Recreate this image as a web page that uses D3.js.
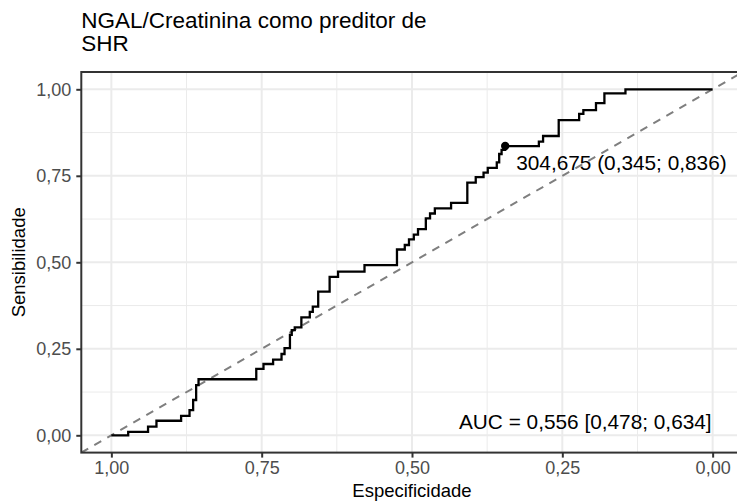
<!DOCTYPE html>
<html>
<head>
<meta charset="utf-8">
<script src="https://cdn.jsdelivr.net/npm/d3@7"></script>
<style>
  body { margin: 0; background: #fff; }
  svg { display: block; font-family: "Liberation Sans", Arial, sans-serif; }
</style>
</head>
<body>
<svg width="737" height="503"></svg>
<script>
// ROC vertices (specificity, sensitivity)
var spec = [1, 0.972, 0.939, 0.925, 0.884, 0.870, 0.864, 0.859, 0.855, 0.759,
  0.747, 0.731, 0.717, 0.712, 0.703, 0.700, 0.695, 0.684, 0.670, 0.665,
  0.656, 0.637, 0.623, 0.579, 0.525, 0.512, 0.505, 0.497, 0.490, 0.477,
  0.470, 0.462, 0.435, 0.408, 0.394, 0.381, 0.374, 0.359, 0.355, 0.351,
  0.345, 0.289, 0.282, 0.256, 0.222, 0.215, 0.194, 0.180, 0.145, 0];
var sens = [0, 0.010, 0.025, 0.042, 0.056, 0.073, 0.102, 0.145, 0.162, 0.192,
  0.206, 0.219, 0.235, 0.252, 0.290, 0.304, 0.312, 0.341, 0.357, 0.372,
  0.415, 0.458, 0.473, 0.492, 0.537, 0.550, 0.566, 0.580, 0.596, 0.627,
  0.641, 0.656, 0.672, 0.730, 0.746, 0.759, 0.773, 0.789, 0.813, 0.825,
  0.836, 0.849, 0.865, 0.911, 0.929, 0.940, 0.960, 0.988, 1, 1];

var bestPoint = {spec: 0.345, sens: 0.836, label: "304,675 (0,345; 0,836)"};
var aucLabel = "AUC = 0,556 [0,478; 0,634]";
var majorTicks = [0, 0.25, 0.5, 0.75, 1];
var minorTicks = [0.125, 0.375, 0.625, 0.875];
var tickLabels = ["0,00", "0,25", "0,50", "0,75", "1,00"];
var titleLines = ["NGAL/Creatinina como preditor de", "SHR"];

var svg = d3.select("svg");

// panel box (right edge runs past the picture, as in the original)
var pL = 81.3, pR = 742.7, pT = 72, pB = 452.6;

var x = d3.scaleLinear().domain([1.05, -0.05]).range([pL, pR]);
var y = d3.scaleLinear().domain([-0.05, 1.05]).range([pB, pT]);

var clip = svg.append("defs").append("clipPath").attr("id", "panel");
clip.append("rect").attr("x", pL).attr("y", pT)
  .attr("width", pR - pL).attr("height", pB - pT);

var panel = svg.append("g").attr("clip-path", "url(#panel)");

// grid
panel.selectAll(".vminor").data(minorTicks).enter().append("line")
  .attr("x1", x).attr("x2", x).attr("y1", pT).attr("y2", pB)
  .style("stroke", "#ebebeb").style("stroke-width", 1);
panel.selectAll(".hminor").data(minorTicks).enter().append("line")
  .attr("y1", y).attr("y2", y).attr("x1", pL).attr("x2", pR)
  .style("stroke", "#ebebeb").style("stroke-width", 1);
panel.selectAll(".vmajor").data(majorTicks).enter().append("line")
  .attr("x1", x).attr("x2", x).attr("y1", pT).attr("y2", pB)
  .style("stroke", "#ebebeb").style("stroke-width", 2);
panel.selectAll(".hmajor").data(majorTicks).enter().append("line")
  .attr("y1", y).attr("y2", y).attr("x1", pL).attr("x2", pR)
  .style("stroke", "#ebebeb").style("stroke-width", 2);

// chance line
panel.append("line")
  .attr("x1", x(1.05)).attr("y1", y(-0.05))
  .attr("x2", x(-0.05)).attr("y2", y(1.05))
  .style("stroke", "#7f7f7f").style("stroke-width", 2)
  .style("stroke-dasharray", "8,7");

// ROC staircase
var pts = spec.map(function(s, i) { return [s, sens[i]]; });
var line = d3.line()
  .x(function(d) { return x(d[0]); })
  .y(function(d) { return y(d[1]); })
  .curve(d3.curveStepAfter);
panel.append("path").datum(pts).attr("d", line)
  .style("fill", "none").style("stroke", "#000").style("stroke-width", 2.3);

panel.append("circle")
  .attr("cx", x(bestPoint.spec)).attr("cy", y(bestPoint.sens)).attr("r", 4.2)
  .style("fill", "#000");

svg.append("text")
  .attr("x", x(bestPoint.spec) + 11).attr("y", y(bestPoint.sens) + 24)
  .style("font-size", "20.8px").style("fill", "#000")
  .text(bestPoint.label);

svg.append("text")
  .attr("x", x(0) - 1).attr("y", y(0) - 6)
  .attr("text-anchor", "end")
  .style("font-size", "20.8px").style("fill", "#000")
  .text(aucLabel);

// border
svg.append("rect").attr("x", pL).attr("y", pT)
  .attr("width", pR - pL).attr("height", pB - pT)
  .style("fill", "none").style("stroke", "#333").style("stroke-width", 2);

// axes
var fmt = function(d) { return tickLabels[majorTicks.indexOf(d)]; };
var xAxis = svg.append("g").attr("transform", "translate(0," + pB + ")")
  .call(d3.axisBottom(x).tickValues(majorTicks).tickFormat(fmt).tickSize(5).tickPadding(4));
var yAxis = svg.append("g").attr("transform", "translate(" + pL + ",0)")
  .call(d3.axisLeft(y).tickValues(majorTicks).tickFormat(fmt).tickSize(5).tickPadding(5));
[xAxis, yAxis].forEach(function(a) {
  a.select(".domain").remove();
  a.selectAll(".tick line").style("stroke", "#333").style("stroke-width", 2);
  a.selectAll(".tick text").style("fill", "#4d4d4d").style("font-size", "18px")
    .style("font-family", "Liberation Sans, Arial, sans-serif");
});

svg.append("text")
  .attr("x", (pL + pR) / 2).attr("y", 497)
  .attr("text-anchor", "middle").style("font-size", "18.5px")
  .text("Especificidade");

svg.append("text")
  .attr("transform", "translate(25," + ((pT + pB) / 2) + ") rotate(-90)")
  .attr("text-anchor", "middle").style("font-size", "18.5px")
  .text("Sensibilidade");

svg.selectAll(".title").data(titleLines).enter().append("text")
  .attr("x", pL).attr("y", function(d, i) { return 28 + i * 23; })
  .style("font-size", "22.5px").style("fill", "#000")
  .text(function(d) { return d; });
</script>
</body>
</html>
